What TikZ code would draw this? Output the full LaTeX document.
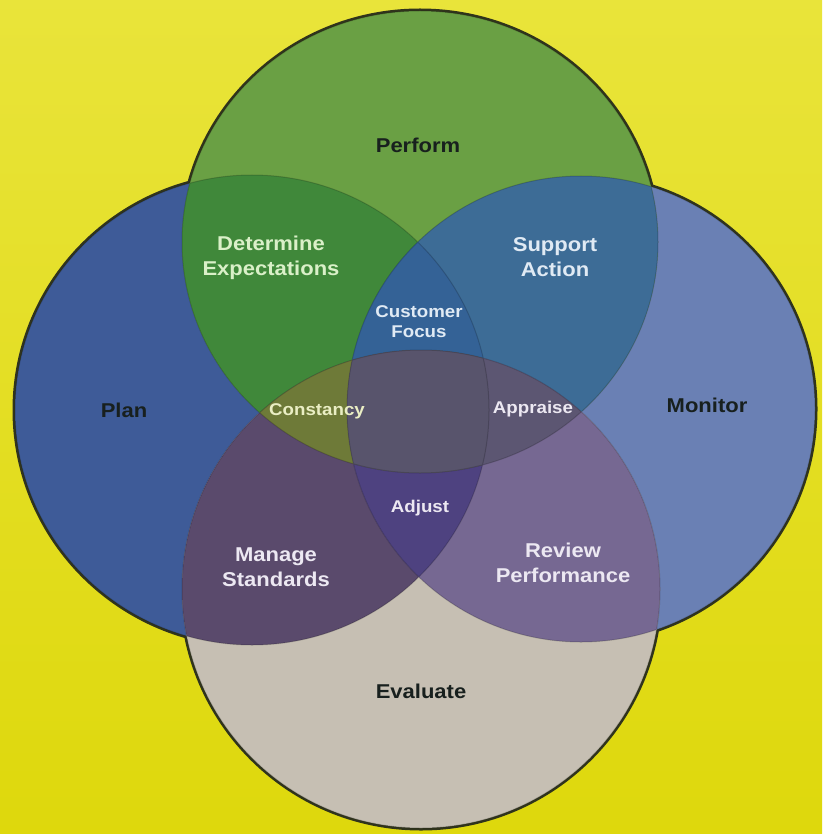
\documentclass[tikz,border=0pt]{standalone}
\usepackage{fontspec}
\setmainfont{Liberation Sans}[FakeStretch=1.1]
\definecolor{bgtop}{RGB}{233,228,58}
\definecolor{bgbot}{RGB}{222,216,12}
\definecolor{outl}{RGB}{48,52,28}
\definecolor{cPF}{RGB}{106,160,68}
\definecolor{cPL}{RGB}{62,91,152}
\definecolor{cMO}{RGB}{106,128,180}
\definecolor{cEV}{RGB}{198,191,179}
\definecolor{cPLPF}{RGB}{64,136,58}
\definecolor{cPFMO}{RGB}{61,108,150}
\definecolor{cPLEV}{RGB}{90,74,108}
\definecolor{cMOEV}{RGB}{118,104,146}
\definecolor{cCF}{RGB}{52,98,150}
\definecolor{cCON}{RGB}{110,122,56}
\definecolor{cAPP}{RGB}{92,86,114}
\definecolor{cADJ}{RGB}{78,66,128}
\definecolor{cALL}{RGB}{88,84,108}
\definecolor{tdark}{RGB}{24,32,30}
\definecolor{tgreen}{RGB}{218,240,200}
\definecolor{tblue}{RGB}{224,234,244}
\definecolor{tolive}{RGB}{234,238,196}
\definecolor{tlav}{RGB}{236,232,242}
\begin{document}
\begin{tikzpicture}[x=1pt,y=-1pt,
  lab/.style={font=\bfseries\fontsize{20}{25}\selectfont, align=center, inner sep=0pt},
  sml/.style={font=\bfseries\fontsize{17}{20}\selectfont, align=center, inner sep=0pt}]
\def\PL{(252,410) ellipse [x radius=237, y radius=235]}
\def\MO{(581,409) ellipse [x radius=234, y radius=233]}
\def\PF{(420,242) ellipse [x radius=238, y radius=231]}
\def\EV{(421,589) ellipse [x radius=239, y radius=239]}
\useasboundingbox (0,0) rectangle (822,834);
\shade[top color=bgtop, bottom color=bgbot] (0,0) rectangle (822,834);
% outer dark rims
\draw[outl, line width=5pt] \PL \MO \PF \EV;
% base fills
\fill[cPL] \PL;
\fill[cMO] \MO;
\fill[cPF] \PF;
\fill[cEV] \EV;
% pairwise
\begin{scope}\clip \PL; \fill[cPLPF] \PF; \end{scope}
\begin{scope}\clip \MO; \fill[cPFMO] \PF; \end{scope}
\begin{scope}\clip \PL; \fill[cPLEV] \EV; \end{scope}
\begin{scope}\clip \MO; \fill[cMOEV] \EV; \end{scope}
% triples
\begin{scope}\clip \PL; \clip \MO; \fill[cCF] \PF; \end{scope}
\begin{scope}\clip \PL; \clip \MO; \fill[cADJ] \EV; \end{scope}
\begin{scope}\clip \PL; \clip \PF; \fill[cCON] \EV; \end{scope}
\begin{scope}\clip \MO; \clip \PF; \fill[cAPP] \EV; \end{scope}
% all four
\begin{scope}\clip \PL; \clip \MO; \clip \PF; \fill[cALL] \EV; \end{scope}
% subtle inner edges
\draw[black, opacity=0.18, line width=1pt] \PL \MO \PF \EV;
% labels
\node[lab, text=tdark] (perform) at (418,145) {Perform};
\node[lab, text=tdark] (plan) at (124,410) {Plan};
\node[lab, text=tdark] (monitor) at (707,405) {Monitor};
\node[lab, text=tdark] (evaluate) at (421,691) {Evaluate};
\node[lab, text=tgreen] (determine) at (271,258) {Determine\\Expectations};
\node[lab, text=tblue] (support) at (555,257) {Support\\Action};
\node[lab, text=tlav] (manage) at (276,567) {Manage\\Standards};
\node[lab, text=tlav] (review) at (563,563) {Review\\Performance};
\node[sml, text=tblue] (customer) at (419,322) {Customer\\Focus};
\node[sml, text=tolive] (constancy) at (317,411) {Constancy};
\node[sml, text=tlav] (appraise) at (533,409) {Appraise};
\node[sml, text=tlav] (adjust) at (420,508) {Adjust};
\end{tikzpicture}
\end{document}
